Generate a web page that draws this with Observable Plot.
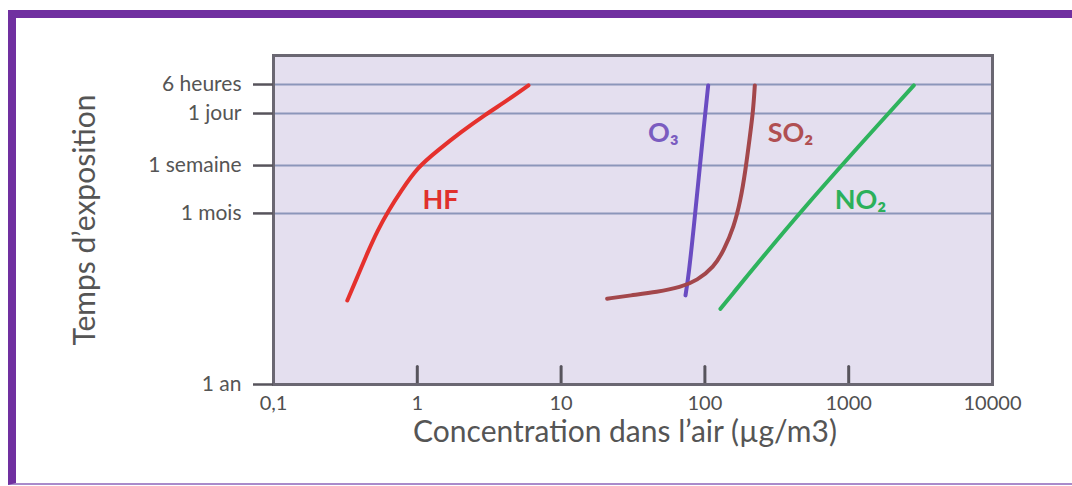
<!DOCTYPE html>
<html>
<head>
<meta charset="utf-8">
<script src="https://cdn.jsdelivr.net/npm/d3@7"></script>
<script src="https://cdn.jsdelivr.net/npm/@observablehq/plot@0.6"></script>
<style>
  html, body { margin: 0; padding: 0; background: #ffffff; }
  #wrap { position: relative; width: 1072px; height: 486px; overflow: hidden; }
  #border {
    position: absolute; left: 8px; top: 10px; right: -10px; height: 465px;
    border-top: 8px solid #7030a0; border-left: 8px solid #7030a0;
    border-bottom: 2px solid #a98bcb; pointer-events: none;
  }
  #chart { position: absolute; left: 0; top: 0; }
</style>
</head>
<body>
<div id="wrap">
  <div id="chart"></div>
  <div id="border"></div>
</div>
<script>
// Axis ticks
const xTicks = [0.1, 1, 10, 100, 1000, 10000];
const xTickLabels = ["0,1", "1", "10", "100", "1000", "10000"];
const yTickLabels = ["1 an", "1 mois", "1 semaine", "1 jour", "6 heures"];
const yTickPos = [0, 5.72, 7.32, 9.06, 10.03]; // position on exposure axis (1 an = 0)

// Series (concentration µg/m3, exposure position)
const hfX = [0.326, 0.384, 0.4505, 0.529, 0.631, 0.776, 1.003, 1.382, 1.997, 2.981, 4.239, 5.933];
const hfY = [2.81, 3.61, 4.41, 5.15, 5.82, 6.49, 7.26, 7.82, 8.43, 9.03, 9.50, 10.0];
const o3X = [73.3, 77.3, 83.7, 90.7, 98.2, 105.4];
const o3Y = [2.98, 3.70, 5.26, 6.93, 8.60, 10.0];
const so2X = [20.9, 30.4, 46.6, 67.7, 88.4, 115.3, 135.3, 158.9, 176.9, 191.5, 205.2, 216.7, 222.4];
const so2Y = [2.87, 2.98, 3.09, 3.25, 3.48, 3.92, 4.48, 5.26, 6.15, 7.16, 8.27, 9.16, 10.0];
const no2X = [128.3, 462, 2838];
const no2Y = [2.53, 5.82, 10.0];

const seriesNames = ["HF", "O₃", "SO₂", "NO₂"];
const seriesColors = ["#e5312d", "#6a4cc2", "#a3474b", "#2eb35d"];
const labelColors = ["#e0302c", "#7a5cc0", "#b04f52", "#2cb05a"];
const labelX = [1.45, 51.5, 394, 1208];
const labelY = [6.15, 8.39, 8.39, 6.15];

const xTitle = "Concentration dans l’air (µg/m3)";
const yTitle = "Temps d’exposition";

const toRows = (xs, ys, name) => xs.map((x, i) => ({x, y: ys[i], name}));
const curves = [
  toRows(hfX, hfY, "HF"),
  toRows(o3X, o3Y, "O₃"),
  toRows(so2X, so2Y, "SO₂"),
  toRows(no2X, no2Y, "NO₂")
];
const labels = seriesNames.map((name, i) => ({name, x: labelX[i], y: labelY[i], color: labelColors[i]}));

const tickShape = {draw(context, l) { context.moveTo(0, 0); context.lineTo(0, -l); }};

const chart = Plot.plot({
  width: 1072,
  height: 486,
  marginLeft: 273,
  marginRight: 80,
  marginTop: 55,
  marginBottom: 102,
  style: {fontFamily: "Lato, 'Open Sans', sans-serif", background: "transparent", overflow: "visible"},
  x: {type: "log", domain: [0.1, 10000]},
  y: {domain: [0, 11]},
  marks: [
    Plot.frame({fill: "#e4dfef", stroke: null}),
    Plot.ruleY(yTickPos.slice(1), {stroke: "#8b96ba", strokeWidth: 2}),
    ...curves.map((rows, i) => Plot.line(rows, {x: "x", y: "y", stroke: seriesColors[i], strokeWidth: 4, curve: "basis"})),
    Plot.text(labels, {x: "x", y: "y", text: "name", fill: "color", fontSize: 27, fontWeight: "bold"}),
    Plot.vector(xTicks.slice(1, -1), {x: d => d, frameAnchor: "bottom", length: 18, anchor: "start", shape: tickShape, stroke: "#57545c", strokeWidth: 3}),
    Plot.frame({stroke: "#6a6772", strokeWidth: 3}),
    Plot.axisY(yTickPos, {tickSize: 20, tickPadding: 12, tickFormat: d => yTickLabels[yTickPos.indexOf(d)], stroke: "#57545c", strokeWidth: 2.5, fill: "#555555", fontSize: 21, label: null}),
    Plot.axisX(xTicks, {tickSize: 0, tickPadding: 11, tickFormat: d => xTickLabels[xTicks.indexOf(d)], fill: "#505050", fontSize: 20, label: null}),
    Plot.text([yTitle], {frameAnchor: "left", dx: -188, rotate: -90, textAnchor: "middle", text: d => d, fill: "#555555", fontSize: 30}),
    Plot.text([xTitle], {frameAnchor: "bottom", dx: -8, dy: 57, text: d => d, fill: "#555555", fontSize: 30})
  ]
});
document.getElementById("chart").appendChild(chart);
</script>
</body>
</html>
